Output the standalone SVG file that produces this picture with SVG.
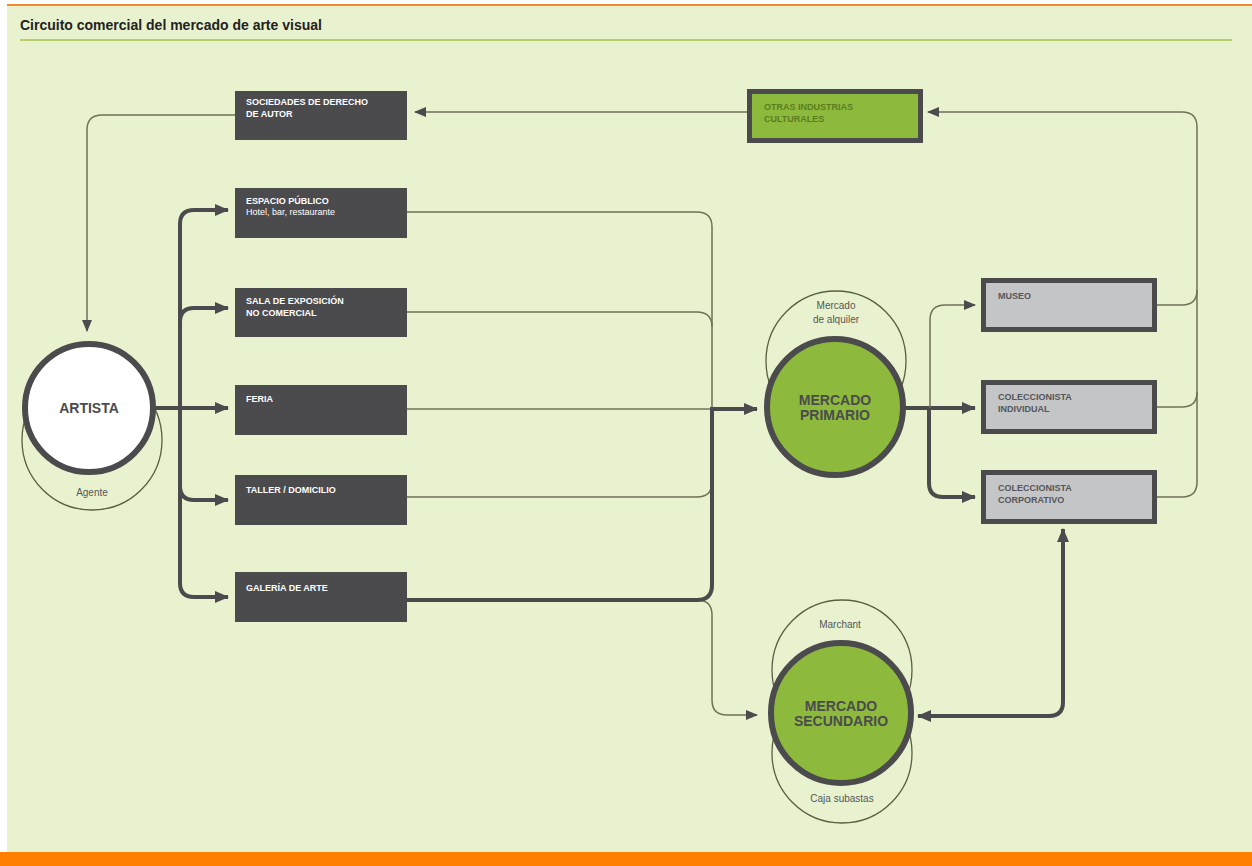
<svg xmlns="http://www.w3.org/2000/svg" width="1252" height="866" viewBox="0 0 1252 866">
<style>
.bg{fill:#e9f2ce}
.dbox{fill:#4b4b4e}
.gbox{fill:#c4c5c7;stroke:#4b4b4e;stroke-width:5}
.obox{fill:#8dba3c;stroke:#4b4b4e;stroke-width:5}
.bt{font-family:"Liberation Sans",Arial,sans-serif;font-weight:bold;font-size:9px;fill:#ffffff}
.bs{font-family:"Liberation Sans",Arial,sans-serif;font-size:9px;fill:#ffffff}
.gt{font-family:"Liberation Sans",Arial,sans-serif;font-weight:bold;font-size:9px;fill:#55565a}
.ot{font-family:"Liberation Sans",Arial,sans-serif;font-weight:bold;font-size:9px;fill:#5b7d20}
.big{font-family:"Liberation Sans",Arial,sans-serif;font-weight:bold;font-size:14px;fill:#4b4b4e;text-anchor:middle}
.sm{font-family:"Liberation Sans",Arial,sans-serif;font-size:10px;fill:#55565a;text-anchor:middle}
.thin{fill:none;stroke:#6e7256;stroke-width:1.5}
.thick{fill:none;stroke:#4b4b4e;stroke-width:4}
.ring{fill:none;stroke:#5a5f42;stroke-width:1.3}
</style>
<defs>
<marker id="at" markerUnits="userSpaceOnUse" markerWidth="14" markerHeight="12" viewBox="0 0 14 12" refX="13" refY="6" orient="auto-start-reverse">
<path d="M0,0 L14,6 L0,12 Z" fill="#4b4b4e"/>
</marker>
<marker id="an" markerUnits="userSpaceOnUse" markerWidth="12" markerHeight="10" viewBox="0 0 12 10" refX="11" refY="5" orient="auto-start-reverse">
<path d="M0,0 L12,5 L0,10 Z" fill="#4b4b4e"/>
</marker>
</defs>
<rect x="0" y="0" width="1252" height="866" fill="#ffffff"/>
<rect class="bg" x="7" y="6" width="1245" height="846"/>
<rect x="7" y="4" width="1245" height="2" fill="#f08a2a"/>
<rect x="0" y="852" width="1252" height="14" fill="#ff8000"/>
<text x="20" y="30" font-family="'Liberation Sans',Arial,sans-serif" font-weight="bold" font-size="14" fill="#222222">Circuito comercial del mercado de arte visual</text>
<line x1="20" y1="40" x2="1232" y2="40" stroke="#b6cd6c" stroke-width="2"/>

<g id="connectors">
<path class="thin" d="M235 115 H102 Q87 115 87 130 V331" marker-end="url(#an)"/>
<path class="thin" d="M747 112 H415" marker-end="url(#an)"/>
<path class="thin" d="M1157 497 H1182 Q1197 497 1197 482 V127 Q1197 112 1182 112 H928" marker-end="url(#an)"/>
<path class="thin" d="M1157 305 H1182 Q1197 305 1197 290"/>
<path class="thin" d="M1157 407 H1182 Q1197 407 1197 392"/>
<path class="thick" d="M155 408 H228" marker-end="url(#at)"/>
<path class="thick" d="M228 210 H194 Q180 210 180 224 V583 Q180 597 194 597 H228" marker-start="url(#at)" marker-end="url(#at)"/>
<path class="thick" d="M180 322 Q180 308 194 308 H228" marker-end="url(#at)"/>
<path class="thick" d="M180 486 Q180 500 194 500 H228" marker-end="url(#at)"/>
<path class="thin" d="M407 212 H697 Q712 212 712 227 V409"/>
<path class="thin" d="M407 312 H697 Q712 312 712 327"/>
<path class="thin" d="M407 409 H712"/>
<path class="thin" d="M407 497 H697 Q712 497 712 482"/>
<path class="thin" d="M697 600 Q712 600 712 615 V700 Q712 715 727 715 H757" marker-end="url(#an)"/>
<path class="thick" d="M407 600 H697 Q712 600 712 585 V409 H757" marker-end="url(#at)"/>
<path class="thick" d="M903 408 H975" marker-end="url(#at)"/>
<path class="thin" d="M930 408 V320 Q930 305 945 305 H975" marker-end="url(#an)"/>
<path class="thick" d="M929 408 V483 Q929 497 943 497 H975" marker-end="url(#at)"/>
<path class="thick" d="M918 716 H1049 Q1063 716 1063 702 V529" marker-start="url(#at)" marker-end="url(#at)"/>
</g>

<g id="node-artista">
<circle class="ring" cx="92" cy="440" r="70"/>
<circle cx="89" cy="408" r="64" fill="#ffffff" stroke="#4b4b4e" stroke-width="6"/>
<text class="big" x="89" y="413" font-size="15">ARTISTA</text>
<text class="sm" x="92" y="496">Agente</text>
</g>

<g id="node-sociedades">
<rect class="dbox" x="235" y="91" width="172" height="49"/>
<text class="bt" x="246" y="105">SOCIEDADES DE DERECHO</text>
<text class="bt" x="246" y="117">DE AUTOR</text>
</g>
<g id="node-espacio">
<rect class="dbox" x="235" y="188" width="172" height="50"/>
<text class="bt" x="246" y="204">ESPACIO PÚBLICO</text>
<text class="bs" x="246" y="215">Hotel, bar, restaurante</text>
</g>
<g id="node-sala">
<rect class="dbox" x="235" y="288" width="172" height="49"/>
<text class="bt" x="246" y="304">SALA DE EXPOSICIÓN</text>
<text class="bt" x="246" y="316">NO COMERCIAL</text>
</g>
<g id="node-feria">
<rect class="dbox" x="235" y="385" width="172" height="50"/>
<text class="bt" x="246" y="402">FERIA</text>
</g>
<g id="node-taller">
<rect class="dbox" x="235" y="475" width="172" height="50"/>
<text class="bt" x="246" y="493">TALLER / DOMICILIO</text>
</g>
<g id="node-galeria">
<rect class="dbox" x="235" y="572" width="172" height="50"/>
<text class="bt" x="246" y="591">GALERÍA DE ARTE</text>
</g>

<g id="node-otras">
<rect class="obox" x="749.5" y="91.5" width="171" height="49"/>
<text class="ot" x="764" y="110">OTRAS INDUSTRIAS</text>
<text class="ot" x="764" y="122">CULTURALES</text>
</g>

<g id="node-primario">
<circle class="ring" cx="836" cy="361" r="70"/>
<circle cx="835" cy="407" r="68" fill="#8dba3c" stroke="#4b4b4e" stroke-width="6"/>
<text class="big" x="835" y="405">MERCADO</text>
<text class="big" x="835" y="420">PRIMARIO</text>
<text class="sm" x="836" y="309">Mercado</text>
<text class="sm" x="836" y="323">de alquiler</text>
</g>

<g id="node-secundario">
<circle class="ring" cx="842" cy="670" r="70"/>
<circle class="ring" cx="842" cy="753" r="70"/>
<circle cx="841" cy="713" r="70" fill="#8dba3c" stroke="#4b4b4e" stroke-width="6"/>
<text class="big" x="841" y="711">MERCADO</text>
<text class="big" x="841" y="726">SECUNDARIO</text>
<text class="sm" x="840" y="628">Marchant</text>
<text class="sm" x="842" y="802">Caja subastas</text>
</g>

<g id="node-museo">
<rect class="gbox" x="983.5" y="280.5" width="171" height="49"/>
<text class="gt" x="998" y="299">MUSEO</text>
</g>
<g id="node-individual">
<rect class="gbox" x="983.5" y="382.5" width="171" height="49"/>
<text class="gt" x="998" y="400">COLECCIONISTA</text>
<text class="gt" x="998" y="412">INDIVIDUAL</text>
</g>
<g id="node-corporativo">
<rect class="gbox" x="983.5" y="472.5" width="171" height="49"/>
<text class="gt" x="998" y="491">COLECCIONISTA</text>
<text class="gt" x="998" y="503">CORPORATIVO</text>
</g>
</svg>
